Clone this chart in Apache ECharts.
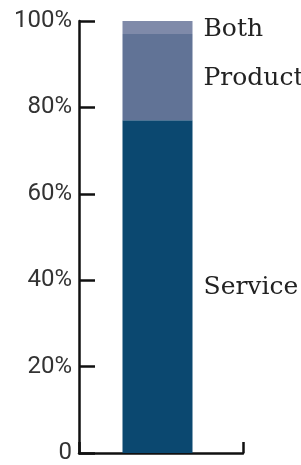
<!DOCTYPE html>
<html>
<head>
<meta charset="utf-8">
<script src="https://cdn.jsdelivr.net/npm/echarts@6/dist/echarts.min.js"></script>
<style>html,body{margin:0;padding:0;background:#fff;}#c{width:301px;height:465px;}</style>
</head>
<body>
<div id="c"></div>
<script>
var categories = [''];
var seriesNames = ['Service', 'Product', 'Both'];
var serviceValues = [77];
var productValues = [20];
var bothValues = [3];
var yTicks = [0, 20, 40, 60, 80, 100];

var colors = ['#0b4870', '#617396', '#7f8aa9'];
var labelFont = 'DejaVu Serif';
var axisFont = 'Roboto';

function mkSeries(name, data, color, offsetY) {
  return {
    name: name, type: 'bar', stack: 'total', data: data, barWidth: 70, barGap: '0%',
    itemStyle: { color: color },
    label: { show: true, position: 'right', distance: 11, offset: [0, offsetY], formatter: name,
      fontFamily: labelFont, fontSize: 25, color: '#222' }
  };
}

var chart = echarts.init(document.getElementById('c'));
chart.setOption({
  animation: false,
  grid: { left: 79, right: 58, top: 21, bottom: 8 },
  xAxis: {
    type: 'category', data: categories,
    axisLine: { lineStyle: { color: '#111', width: 2.5 } },
    axisTick: { show: true, inside: true, length: 11, lineStyle: { color: '#111', width: 2.5 } },
    axisLabel: { show: false }
  },
  yAxis: {
    type: 'value', min: yTicks[0], max: yTicks[yTicks.length - 1], interval: 20,
    splitLine: { show: false },
    axisLine: { show: true, lineStyle: { color: '#111', width: 2.5 } },
    axisTick: { show: true, inside: true, length: 16, lineStyle: { color: '#111', width: 2.5 } },
    axisLabel: { margin: 7, fontFamily: axisFont, fontSize: 24, color: '#333',
      formatter: function (v) { return v === 0 ? '0' : v + '%'; } }
  },
  series: [
    mkSeries(seriesNames[0], serviceValues, colors[0], 1),
    mkSeries(seriesNames[1], productValues, colors[1], 1),
    mkSeries(seriesNames[2], bothValues, colors[2], 2),
    { name: 'spacer', type: 'bar', data: [null], barWidth: 7, barGap: '0%', silent: true }
  ]
});
</script>
</body>
</html>
